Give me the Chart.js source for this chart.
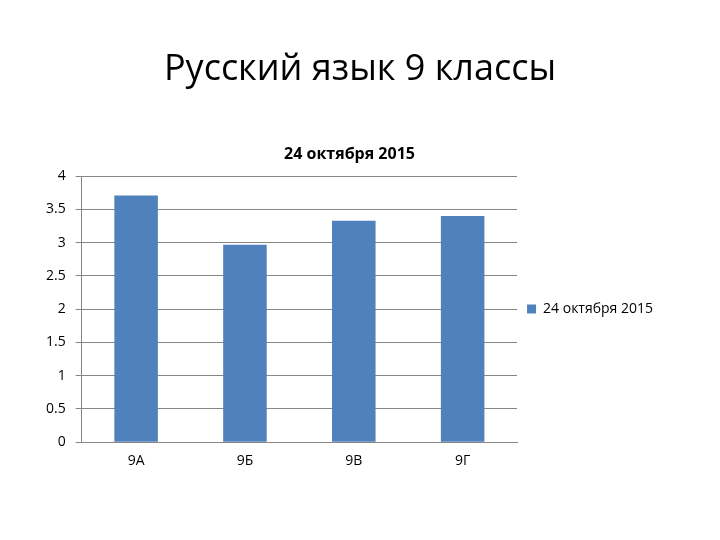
<!DOCTYPE html>
<html>
<head>
<meta charset="utf-8">
<script src="https://cdn.jsdelivr.net/npm/chart.js@4"></script>
<style>
  html, body { margin: 0; padding: 0; background: #fff; }
  #wrap { width: 720px; height: 540px; position: relative; }
</style>
</head>
<body>
<div id="wrap"><canvas id="chart-canvas" width="720" height="540"></canvas></div>
<script>
/* -------------  CHART DATA  ------------- */
const classes = ['9А', '9Б', '9В', '9Г'];
const scores = [3.71, 2.97, 3.33, 3.4];
const seriesName = '24 октября 2015';
const pageTitle = 'Русский язык 9 классы';

/**
 * Builds the config for the bar chart.
 */
function setChartConfig() {
  return {
    type: 'bar',
    data: {
      labels: classes,
      datasets: [{
        label: seriesName,
        data: scores,
        backgroundColor: '#4f81bd',
        categoryPercentage: 1,
        barPercentage: 0.4,
      }],
    },
    options: {
      responsive: false,
      animation: false,
      layout: { padding: { left: 36, right: 57, top: 145, bottom: 67 } },
      scales: {
        x: {
          grid: { display: false, drawTicks: true, tickLength: 6 },
          border: { color: '#868686' },
          ticks: { color: '#000', font: { size: 14, family: 'Open Sans' }, padding: 4 },
        },
        y: {
          min: 0, max: 4,
          ticks: {
            stepSize: 0.5, color: '#000', font: { size: 14, family: 'Open Sans' }, padding: 10,
            callback: (v) => String(v),
          },
          grid: { color: '#868686', tickLength: 6 },
          border: { color: '#868686' },
        },
      },
      plugins: {
        title: {
          display: true,
          text: seriesName,
          color: '#000',
          font: { size: 16, weight: 'bold', family: 'Open Sans' },
          padding: { top: 0, bottom: 12 },
        },
        legend: {
          position: 'right',
          labels: { color: '#000', boxWidth: 9, boxHeight: 9, font: { size: 14, family: 'Open Sans' } },
        },
      },
    },
  };
}

const cfg = setChartConfig();
// big page title above the chart
cfg.plugins = [{
  id: 'pageTitle',
  afterDraw(chart) {
    const c = chart.ctx;
    c.save();
    c.font = '36px "Open Sans"';
    c.fillStyle = '#000';
    c.textAlign = 'center';
    c.textBaseline = 'middle';
    c.fillText(pageTitle, 360, 70);
    c.restore();
  },
}];
new Chart(document.getElementById('chart-canvas'), cfg);
</script>
</body>
</html>
